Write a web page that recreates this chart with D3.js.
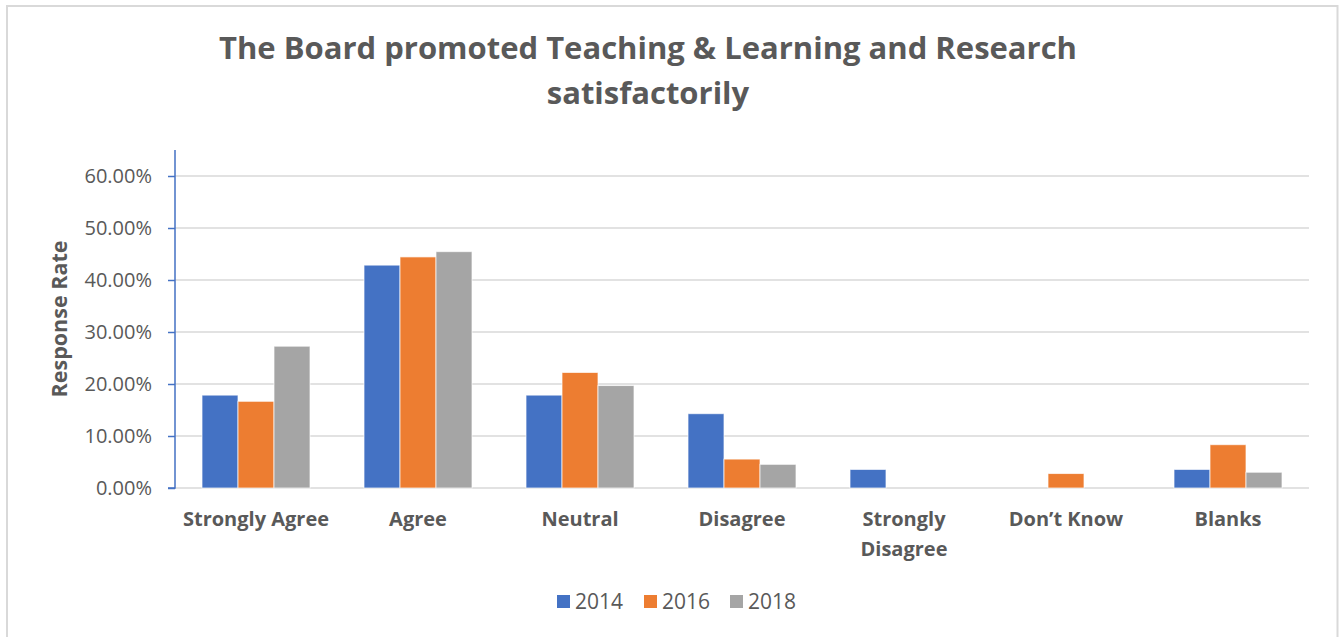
<!DOCTYPE html>
<html>
<head>
<meta charset="utf-8">
<script src="https://cdn.jsdelivr.net/npm/d3@7"></script>
<style>
  html, body { margin: 0; padding: 0; background: #fff; }
  svg { display: block; }
  text { font-family: "Open Sans", "Noto Sans", sans-serif; fill: #595959; }
</style>
</head>
<body>
<svg id="chart" width="1340" height="637"></svg>
<script>
// ---- data ----
const categories = ["Strongly Agree", "Agree", "Neutral", "Disagree", "Strongly Disagree", "Don\u2019t Know", "Blanks"];
const seriesNames = ["2014", "2016", "2018"];
const values2014 = [0.1786, 0.4286, 0.1786, 0.1429, 0.0357, 0, 0.0357];
const values2016 = [0.1667, 0.4444, 0.2222, 0.0556, 0, 0.0278, 0.0833];
const values2018 = [0.2727, 0.4545, 0.1970, 0.0455, 0, 0, 0.0303];
const yTicks = [0, 0.1, 0.2, 0.3, 0.4, 0.5, 0.6];
const titleLines = ["The Board promoted Teaching & Learning and Research", "satisfactorily"];
const yTitle = "Response Rate";

const colors = ["#4472C4", "#ED7D31", "#A5A5A5"];
const seriesValues = [values2014, values2016, values2018];

const svg = d3.select("#chart");

// outer border
svg.append("rect").attr("x", 7).attr("y", 6).attr("width", 1330.5).attr("height", 660)
  .attr("fill", "#fff").attr("stroke", "#d9d9d9").attr("stroke-width", 2);

const plotLeft = 175, plotRight = 1309, plotTop = 150, plotBottom = 488;

const x0 = d3.scaleBand().domain(categories).range([plotLeft, plotRight]).paddingInner(0).paddingOuter(0);
const groupW = x0.bandwidth() / 1.5;
const x1 = d3.scaleBand().domain(seriesNames).range([0, groupW]).padding(0);
const y = d3.scaleLinear().domain([0, 0.65]).range([plotBottom, plotTop]);

// gridlines
svg.append("g").selectAll("line").data(yTicks).join("line")
  .attr("x1", plotLeft).attr("x2", plotRight)
  .attr("y1", d => y(d)).attr("y2", d => y(d))
  .attr("stroke", "#d9d9d9").attr("stroke-width", 1.5);

// bars
const groups = svg.append("g").selectAll("g").data(categories).join("g")
  .attr("transform", c => `translate(${x0(c) + (x0.bandwidth() - groupW) / 2},0)`);
groups.selectAll("rect")
  .data((c, i) => seriesNames.map((s, j) => ({ s, j, v: seriesValues[j][i] })).filter(d => d.v > 0))
  .join("rect")
  .attr("x", d => x1(d.s))
  .attr("width", x1.bandwidth())
  .attr("y", d => y(d.v))
  .attr("height", d => y(0) - y(d.v))
  .attr("fill", d => colors[d.j])
  .attr("stroke", "#ffffff").attr("stroke-opacity", 0.7).attr("stroke-width", 1);

// y axis
const yAxis = d3.axisLeft(y).tickValues(yTicks).tickSize(7).tickPadding(16)
  .tickFormat(d => (d * 100).toFixed(2) + "%");
const ga = svg.append("g").attr("transform", `translate(${plotLeft},0)`).call(yAxis);
ga.select(".domain").attr("stroke", "#4472C4").attr("stroke-width", 1.5).attr("d", `M-7,${plotBottom}H0V${plotTop}`);
ga.selectAll(".tick line").attr("stroke", "#4472C4").attr("stroke-width", 1.5);
ga.selectAll(".tick text").style("font-size", "20px").attr("fill", "#595959")
  .style("font-family", "'Open Sans', sans-serif");

// x labels
const xl = svg.append("g").selectAll("text").data(categories).join("text")
  .attr("x", c => x0(c) + x0.bandwidth() / 2)
  .attr("y", 526)
  .attr("text-anchor", "middle")
  .style("font-size", "20px").style("font-weight", "bold");
xl.each(function (c) {
  const t = d3.select(this);
  const words = c === "Strongly Disagree" ? ["Strongly", "Disagree"] : [c];
  words.forEach((w, i) => t.append("tspan").attr("x", x0(c) + x0.bandwidth() / 2).attr("dy", i === 0 ? 0 : 30).text(w));
});

// y title
svg.append("text")
  .attr("transform", `translate(67,${(plotTop + plotBottom) / 2}) rotate(-90)`)
  .attr("text-anchor", "middle")
  .style("font-size", "21.5px").style("font-weight", "bold")
  .text(yTitle);

// title
svg.append("g").selectAll("text").data(titleLines).join("text")
  .attr("x", 648).attr("y", (d, i) => 59 + i * 45)
  .attr("text-anchor", "middle")
  .style("font-size", "31px").style("font-weight", "bold")
  .text(d => d);

// legend
const legendX = [557, 644, 730];
const lg = svg.append("g").selectAll("g").data(seriesNames).join("g")
  .attr("transform", (d, i) => `translate(${legendX[i]},595)`);
lg.append("rect").attr("width", 13).attr("height", 13).attr("fill", (d, i) => colors[i]);
lg.append("text").attr("x", 18).attr("y", 14).style("font-size", "21px").text(d => d);
</script>
</body>
</html>
